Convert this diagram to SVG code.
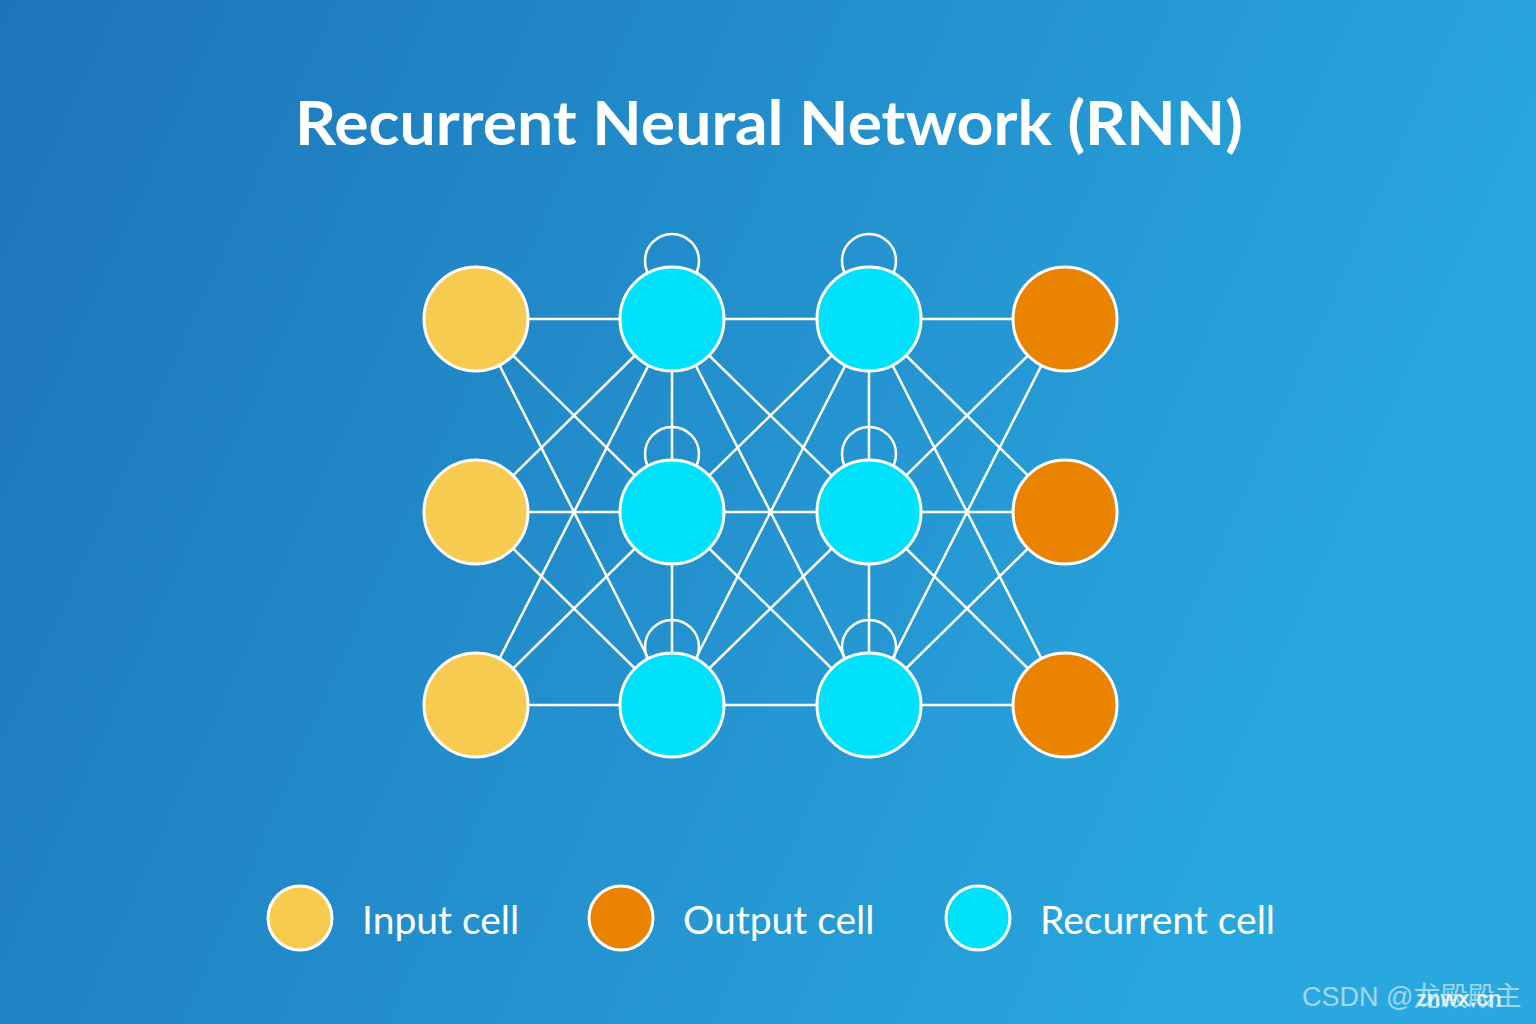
<svg xmlns="http://www.w3.org/2000/svg" width="1536" height="1024" viewBox="0 0 1536 1024">
<defs>
<linearGradient id="bg" x1="0" y1="0" x2="1" y2="0.3">
<stop offset="0" stop-color="#1d74b9"/>
<stop offset="1" stop-color="#29a8df"/>
</linearGradient>
<style>
.edge{stroke:#ffffff;stroke-width:2.5;fill:none}
.loop{stroke:#ffffff;stroke-width:2.5;fill:none}
.node{stroke:#ffffff;stroke-width:3}
.in{fill:#f6cb4f}
.out{fill:#ea8300}
.rec{fill:#00e2fb}
.title{font-family:Lato,"Open Sans",sans-serif;font-weight:bold;font-size:62px;fill:#ffffff}
.leg{font-family:Lato,"Open Sans",sans-serif;font-size:39px;fill:#ffffff}
.wm{font-family:"Liberation Sans","Noto Sans CJK SC",sans-serif;font-size:27px;fill:#ffffff;opacity:0.55}
</style>
</defs>
<rect width="1536" height="1024" fill="url(#bg)"/>
<text class="title" x="769" y="145" text-anchor="middle" textLength="948" lengthAdjust="spacingAndGlyphs">Recurrent Neural Network (RNN)</text>
<g id="connectors">
<!-- input -> rec1 -->
<line class="edge" x1="476" y1="319" x2="672" y2="319"/>
<line class="edge" x1="476" y1="319" x2="672" y2="512"/>
<line class="edge" x1="476" y1="319" x2="672" y2="705"/>
<line class="edge" x1="476" y1="512" x2="672" y2="319"/>
<line class="edge" x1="476" y1="512" x2="672" y2="512"/>
<line class="edge" x1="476" y1="512" x2="672" y2="705"/>
<line class="edge" x1="476" y1="705" x2="672" y2="319"/>
<line class="edge" x1="476" y1="705" x2="672" y2="512"/>
<line class="edge" x1="476" y1="705" x2="672" y2="705"/>
<!-- rec1 -> rec2 -->
<line class="edge" x1="672" y1="319" x2="869" y2="319"/>
<line class="edge" x1="672" y1="319" x2="869" y2="512"/>
<line class="edge" x1="672" y1="319" x2="869" y2="705"/>
<line class="edge" x1="672" y1="512" x2="869" y2="319"/>
<line class="edge" x1="672" y1="512" x2="869" y2="512"/>
<line class="edge" x1="672" y1="512" x2="869" y2="705"/>
<line class="edge" x1="672" y1="705" x2="869" y2="319"/>
<line class="edge" x1="672" y1="705" x2="869" y2="512"/>
<line class="edge" x1="672" y1="705" x2="869" y2="705"/>
<!-- rec2 -> output -->
<line class="edge" x1="869" y1="319" x2="1065" y2="319"/>
<line class="edge" x1="869" y1="319" x2="1065" y2="512"/>
<line class="edge" x1="869" y1="319" x2="1065" y2="705"/>
<line class="edge" x1="869" y1="512" x2="1065" y2="319"/>
<line class="edge" x1="869" y1="512" x2="1065" y2="512"/>
<line class="edge" x1="869" y1="512" x2="1065" y2="705"/>
<line class="edge" x1="869" y1="705" x2="1065" y2="319"/>
<line class="edge" x1="869" y1="705" x2="1065" y2="512"/>
<line class="edge" x1="869" y1="705" x2="1065" y2="705"/>
<!-- vertical -->
<line class="edge" x1="672" y1="319" x2="672" y2="705"/>
<line class="edge" x1="869" y1="319" x2="869" y2="705"/>
<!-- self loops -->
<circle class="loop" cx="672" cy="261" r="27"/>
<circle class="loop" cx="869" cy="261" r="27"/>
<circle class="loop" cx="672" cy="454" r="27"/>
<circle class="loop" cx="869" cy="454" r="27"/>
<circle class="loop" cx="672" cy="647" r="27"/>
<circle class="loop" cx="869" cy="647" r="27"/>
</g>
<g id="in1"><circle class="node in" cx="476" cy="319" r="52"/></g>
<g id="in2"><circle class="node in" cx="476" cy="512" r="52"/></g>
<g id="in3"><circle class="node in" cx="476" cy="705" r="52"/></g>
<g id="r11"><circle class="node rec" cx="672" cy="319" r="52"/></g>
<g id="r12"><circle class="node rec" cx="672" cy="512" r="52"/></g>
<g id="r13"><circle class="node rec" cx="672" cy="705" r="52"/></g>
<g id="r21"><circle class="node rec" cx="869" cy="319" r="52"/></g>
<g id="r22"><circle class="node rec" cx="869" cy="512" r="52"/></g>
<g id="r23"><circle class="node rec" cx="869" cy="705" r="52"/></g>
<g id="out1"><circle class="node out" cx="1065" cy="319" r="52"/></g>
<g id="out2"><circle class="node out" cx="1065" cy="512" r="52"/></g>
<g id="out3"><circle class="node out" cx="1065" cy="705" r="52"/></g>
<g id="legend">
<circle class="node in" cx="300" cy="918" r="32"/>
<text class="leg" x="362" y="934">Input cell</text>
<circle class="node out" cx="621" cy="918" r="32"/>
<text class="leg" x="683" y="934">Output cell</text>
<circle class="node rec" cx="978" cy="918" r="32"/>
<text class="leg" x="1040" y="934">Recurrent cell</text>
</g>
<g id="watermark">
<text class="wm" x="1302" y="1006">CSDN @龙殿殿主</text>
<text class="wm" x="1416" y="1006" style="font-size:22px;font-weight:bold;opacity:0.8">znwx.cn</text>
</g>
</svg>
